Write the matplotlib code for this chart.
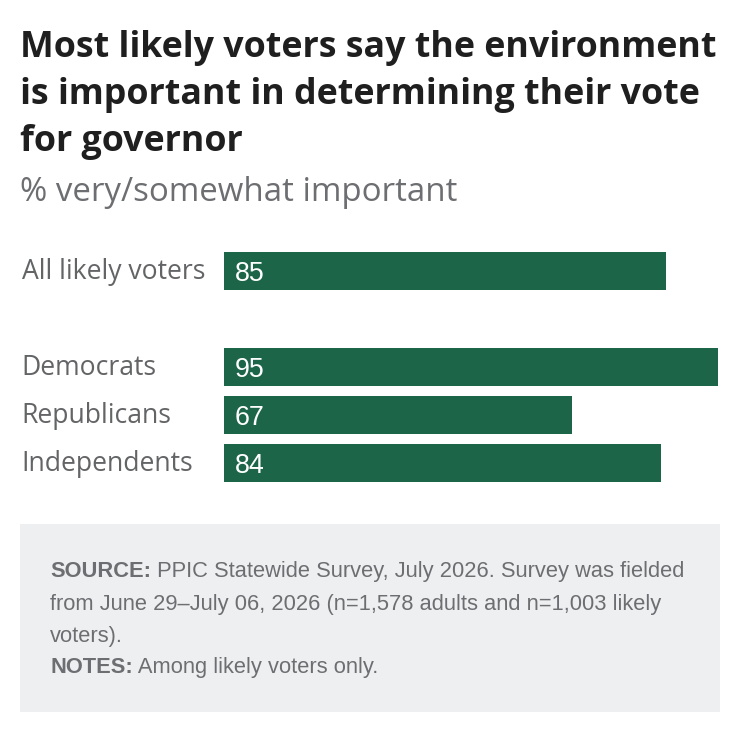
import matplotlib.pyplot as plt
from matplotlib.patches import Rectangle

# data
categories = ['All likely voters', 'Democrats', 'Republicans', 'Independents']
values = [85, 95, 67, 84]
slots = [0, 2, 3, 4]  # empty slot between all voters and party groups

W, H = 740, 732
fig = plt.figure(figsize=(W / 100, H / 100), dpi=100)
fig.patch.set_facecolor('white')
r = fig.canvas.get_renderer()

def fx(px):
    return px / W

def fy(px):
    return 1 - px / H

def fit_size(text, family, weight, target_px):
    # pick the font size that makes text about target_px wide
    t = fig.text(0, 0, text, fontsize=20, family=family, fontweight=weight)
    w = t.get_window_extent(renderer=r).width
    t.remove()
    return 20 * target_px / w

green = '#1c6548'
label_col = '#636466'
note_col = '#6d6e71'

# title + subtitle
title_lines = ['Most likely voters say the environment',
               'is important in determining their vote',
               'for governor']
ts = fit_size(title_lines[0], 'Open Sans', 'bold', 697)
for line, y in zip(title_lines, [57, 104, 151]):
    fig.text(fx(20), fy(y), line, ha='left', va='baseline', fontsize=ts,
             fontweight='bold', family='Open Sans', color='#1f1f1f')

subtitle = '% very/somewhat important'
ss = fit_size(subtitle, 'Open Sans', 'normal', 436)
fig.text(fx(20), fy(201), subtitle, ha='left', va='baseline',
         fontsize=ss, family='Open Sans', color='#6d6e71')

# bars
ax = fig.add_axes([fx(224), fy(487), fx(718) - fx(224), (487 - 247) / H])
ax.barh(slots, values, height=0.81, color=green)
ax.set_xlim(0, 95)
ax.set_ylim(4.5, -0.5)
ax.axis('off')

ls = fit_size('All likely voters', 'Open Sans', 'normal', 183)
vs = fit_size('85', 'Liberation Sans', 'normal', 30)
for s, v, c in zip(slots, values, categories):
    ax.text(2.1, s + 0.2, str(v), ha='left', va='baseline', color='white',
            fontsize=vs, family='Liberation Sans')
    ax.text(-38.9, s + 0.17, c, ha='left', va='baseline', color=label_col,
            fontsize=ls, family='Open Sans')

# footer box
fig.patches.append(Rectangle((fx(20), fy(712)), fx(720) - fx(20), (712 - 524) / H,
                             transform=fig.transFigure, facecolor='#eeeff1',
                             edgecolor='none', zorder=0))

lines = [
    ('SOURCE:', ' PPIC Statewide Survey, July 2026. Survey was fielded'),
    ('', 'from June 29\u2013July 06, 2026 (n=1,578 adults and n=1,003 likely'),
    ('', 'voters).'),
    ('NOTES:', ' Among likely voters only.'),
]
ns = fit_size(lines[1][1], 'Liberation Sans', 'normal', 611)
ys = [577, 610, 642, 673]
for (b, t), y in zip(lines, ys):
    x = fx(50)
    if b:
        tb = fig.text(x, fy(y), b, ha='left', va='baseline', fontsize=ns,
                      fontweight='bold', family='Liberation Sans', color=note_col)
        x = tb.get_window_extent(renderer=r).x1 / fig.bbox.width
    fig.text(x, fy(y), t, ha='left', va='baseline', fontsize=ns,
             family='Liberation Sans', color=note_col)

fig.savefig('out.png', dpi=100, facecolor='white')
